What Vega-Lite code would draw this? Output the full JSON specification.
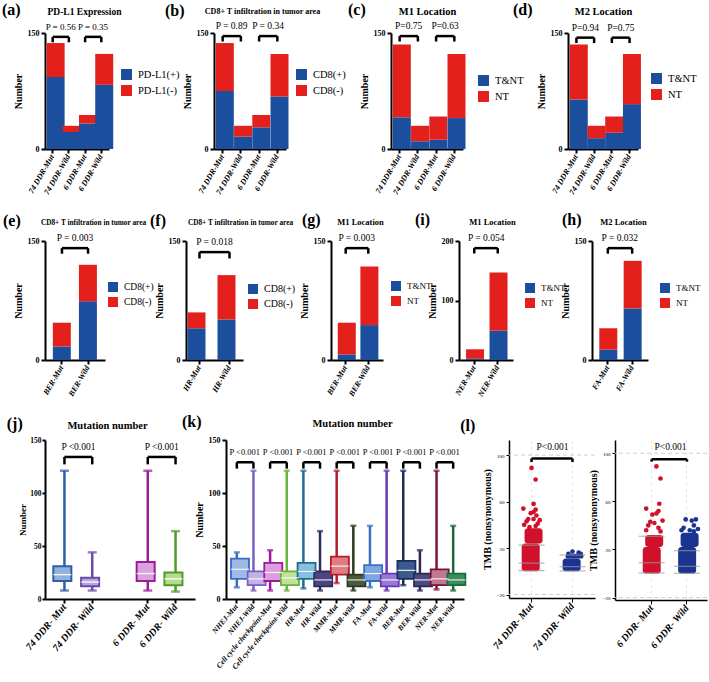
{
  "$schema": "https://vega.github.io/schema/vega-lite/v6.json",
  "padding": {"left": 2, "top": 2, "right": 2, "bottom": 2},
  "background": "white",
  "datasets": {
    "bars": [
      {"p": "a", "g": "74 DDR-Mut", "s": "PD-L1(+)", "n": 93},
      {"p": "a", "g": "74 DDR-Mut", "s": "PD-L1(-)", "n": 44},
      {"p": "a", "g": "74 DDR-Wild", "s": "PD-L1(+)", "n": 22},
      {"p": "a", "g": "74 DDR-Wild", "s": "PD-L1(-)", "n": 8},
      {"p": "a", "g": "6 DDR-Mut", "s": "PD-L1(+)", "n": 33},
      {"p": "a", "g": "6 DDR-Mut", "s": "PD-L1(-)", "n": 11},
      {"p": "a", "g": "6 DDR-Wild", "s": "PD-L1(+)", "n": 83},
      {"p": "a", "g": "6 DDR-Wild", "s": "PD-L1(-)", "n": 40},
      {"p": "b", "g": "74 DDR-Mut", "s": "CD8(+)", "n": 75},
      {"p": "b", "g": "74 DDR-Mut", "s": "CD8(-)", "n": 62},
      {"p": "b", "g": "74 DDR-Wild", "s": "CD8(+)", "n": 16},
      {"p": "b", "g": "74 DDR-Wild", "s": "CD8(-)", "n": 14},
      {"p": "b", "g": "6 DDR-Mut", "s": "CD8(+)", "n": 28},
      {"p": "b", "g": "6 DDR-Mut", "s": "CD8(-)", "n": 16},
      {"p": "b", "g": "6 DDR-Wild", "s": "CD8(+)", "n": 68},
      {"p": "b", "g": "6 DDR-Wild", "s": "CD8(-)", "n": 55},
      {"p": "c", "g": "74 DDR-Mut", "s": "T&NT", "n": 41},
      {"p": "c", "g": "74 DDR-Mut", "s": "NT", "n": 94},
      {"p": "c", "g": "74 DDR-Wild", "s": "T&NT", "n": 10},
      {"p": "c", "g": "74 DDR-Wild", "s": "NT", "n": 20},
      {"p": "c", "g": "6 DDR-Mut", "s": "T&NT", "n": 12},
      {"p": "c", "g": "6 DDR-Mut", "s": "NT", "n": 30},
      {"p": "c", "g": "6 DDR-Wild", "s": "T&NT", "n": 40},
      {"p": "c", "g": "6 DDR-Wild", "s": "NT", "n": 83},
      {"p": "d", "g": "74 DDR-Mut", "s": "T&NT", "n": 64},
      {"p": "d", "g": "74 DDR-Mut", "s": "NT", "n": 71},
      {"p": "d", "g": "74 DDR-Wild", "s": "T&NT", "n": 14},
      {"p": "d", "g": "74 DDR-Wild", "s": "NT", "n": 16},
      {"p": "d", "g": "6 DDR-Mut", "s": "T&NT", "n": 21},
      {"p": "d", "g": "6 DDR-Mut", "s": "NT", "n": 21},
      {"p": "d", "g": "6 DDR-Wild", "s": "T&NT", "n": 58},
      {"p": "d", "g": "6 DDR-Wild", "s": "NT", "n": 65},
      {"p": "e", "g": "BER-Mut", "s": "CD8(+)", "n": 17},
      {"p": "e", "g": "BER-Mut", "s": "CD8(-)", "n": 30},
      {"p": "e", "g": "BER-Wild", "s": "CD8(+)", "n": 74},
      {"p": "e", "g": "BER-Wild", "s": "CD8(-)", "n": 46},
      {"p": "f", "g": "HR-Mut", "s": "CD8(+)", "n": 40},
      {"p": "f", "g": "HR-Mut", "s": "CD8(-)", "n": 20},
      {"p": "f", "g": "HR-Wild", "s": "CD8(+)", "n": 51},
      {"p": "f", "g": "HR-Wild", "s": "CD8(-)", "n": 56},
      {"p": "g", "g": "BER-Mut", "s": "T&NT", "n": 7},
      {"p": "g", "g": "BER-Mut", "s": "NT", "n": 40},
      {"p": "g", "g": "BER-Wild", "s": "T&NT", "n": 44},
      {"p": "g", "g": "BER-Wild", "s": "NT", "n": 74},
      {"p": "i", "g": "NER-Mut", "s": "T&NT", "n": 2},
      {"p": "i", "g": "NER-Mut", "s": "NT", "n": 16},
      {"p": "i", "g": "NER-Wild", "s": "T&NT", "n": 49},
      {"p": "i", "g": "NER-Wild", "s": "NT", "n": 98},
      {"p": "h", "g": "FA-Mut", "s": "T&NT", "n": 13},
      {"p": "h", "g": "FA-Mut", "s": "NT", "n": 27},
      {"p": "h", "g": "FA-Wild", "s": "T&NT", "n": 65},
      {"p": "h", "g": "FA-Wild", "s": "NT", "n": 60}
    ],
    "brk": [
      {"p": "a", "from": "74 DDR-Mut", "to": "74 DDR-Wild", "y": 145, "ylo": 138, "t": "P = 0.56"},
      {"p": "a", "from": "6 DDR-Mut", "to": "6 DDR-Wild", "y": 145, "ylo": 138, "t": "P = 0.35"},
      {"p": "b", "from": "74 DDR-Mut", "to": "74 DDR-Wild", "y": 146, "ylo": 139, "t": "P = 0.89"},
      {"p": "b", "from": "6 DDR-Mut", "to": "6 DDR-Wild", "y": 146, "ylo": 139, "t": "P = 0.34"},
      {"p": "c", "from": "74 DDR-Mut", "to": "74 DDR-Wild", "y": 146, "ylo": 139, "t": "P=0.75"},
      {"p": "c", "from": "6 DDR-Mut", "to": "6 DDR-Wild", "y": 146, "ylo": 139, "t": "P=0.63"},
      {"p": "d", "from": "74 DDR-Mut", "to": "74 DDR-Wild", "y": 144, "ylo": 137, "t": "P=0.94"},
      {"p": "d", "from": "6 DDR-Mut", "to": "6 DDR-Wild", "y": 144, "ylo": 137, "t": "P=0.75"},
      {"p": "e", "from": "BER-Mut", "to": "BER-Wild", "y": 141, "ylo": 134, "t": "P = 0.003"},
      {"p": "f", "from": "HR-Mut", "to": "HR-Wild", "y": 136, "ylo": 128, "t": "P = 0.018"},
      {"p": "g", "from": "BER-Mut", "to": "BER-Wild", "y": 141, "ylo": 134, "t": "P = 0.003"},
      {"p": "i", "from": "NER-Mut", "to": "NER-Wild", "y": 188, "ylo": 179, "t": "P = 0.054"},
      {"p": "h", "from": "FA-Mut", "to": "FA-Wild", "y": 141, "ylo": 134, "t": "P = 0.032"},
      {"p": "j", "from": "74 DDR- Mut", "to": "74 DDR- Wild", "y": 134, "ylo": 127, "t": "P <0.001"},
      {"p": "j", "from": "6 DDR- Mut", "to": "6 DDR- Wild", "y": 134, "ylo": 127, "t": "P <0.001"},
      {"p": "k", "from": "NHEJ-Mut", "to": "NHEJ-Wild", "y": 129, "ylo": 123, "t": "P <0.001"},
      {"p": "k", "from": "Cell cycle checkpoint-Mut", "to": "Cell cycle checkpoint-Wild", "y": 129, "ylo": 123, "t": "P <0.001"},
      {"p": "k", "from": "HR-Mut", "to": "HR-Wild", "y": 129, "ylo": 123, "t": "P <0.001"},
      {"p": "k", "from": "MMR-Mut", "to": "MMR-Wild", "y": 129, "ylo": 123, "t": "P <0.001"},
      {"p": "k", "from": "FA-Mut", "to": "FA-Wild", "y": 129, "ylo": 123, "t": "P <0.001"},
      {"p": "k", "from": "BER-Mut", "to": "BER-Wild", "y": 129, "ylo": 123, "t": "P <0.001"},
      {"p": "k", "from": "NER-Mut", "to": "NER-Wild", "y": 129, "ylo": 123, "t": "P <0.001"},
      {"p": "l1", "from": "74 DDR- Mut", "to": "74 DDR- Wild", "y": 97, "ylo": 94, "t": "P<0.001"},
      {"p": "l2", "from": "6 DDR- Mut", "to": "6 DDR- Wild", "y": 95, "ylo": 93, "t": "P<0.001"}
    ],
    "box": [
      {"p": "j", "g": "74 DDR- Mut", "min": 8, "q1": 17, "med": 23, "q3": 31, "max": 121},
      {"p": "j", "g": "74 DDR- Wild", "min": 8, "q1": 12, "med": 16, "q3": 20, "max": 44},
      {"p": "j", "g": "6 DDR- Mut", "min": 8, "q1": 17, "med": 24, "q3": 35, "max": 121},
      {"p": "j", "g": "6 DDR- Wild", "min": 7, "q1": 13, "med": 19, "q3": 25, "max": 64},
      {"p": "k", "g": "NHEJ-Mut", "min": 11, "q1": 19, "med": 28, "q3": 38, "max": 44},
      {"p": "k", "g": "NHEJ-Wild", "min": 8, "q1": 13, "med": 19, "q3": 26, "max": 121},
      {"p": "k", "g": "Cell cycle checkpoint-Mut", "min": 8, "q1": 17, "med": 25, "q3": 34, "max": 46},
      {"p": "k", "g": "Cell cycle checkpoint-Wild", "min": 8, "q1": 13, "med": 20, "q3": 26, "max": 121},
      {"p": "k", "g": "HR-Mut", "min": 10, "q1": 19, "med": 26, "q3": 34, "max": 121},
      {"p": "k", "g": "HR-Wild", "min": 8, "q1": 12, "med": 18, "q3": 26, "max": 64},
      {"p": "k", "g": "MMR-Mut", "min": 15, "q1": 23, "med": 31, "q3": 40, "max": 121},
      {"p": "k", "g": "MMR-Wild", "min": 8, "q1": 12, "med": 18, "q3": 23, "max": 69},
      {"p": "k", "g": "FA-Mut", "min": 11, "q1": 17, "med": 24, "q3": 32, "max": 69},
      {"p": "k", "g": "FA-Wild", "min": 8, "q1": 12, "med": 18, "q3": 24, "max": 121},
      {"p": "k", "g": "BER-Mut", "min": 13, "q1": 19, "med": 27, "q3": 36, "max": 121},
      {"p": "k", "g": "BER-Wild", "min": 8, "q1": 12, "med": 18, "q3": 24, "max": 46},
      {"p": "k", "g": "NER-Mut", "min": 9, "q1": 13, "med": 19, "q3": 28, "max": 121},
      {"p": "k", "g": "NER-Wild", "min": 8, "q1": 13, "med": 18, "q3": 24, "max": 69}
    ],
    "cloud": [
      {"p": "l1", "g": "74 DDR- Mut", "part": "core", "lo": 0, "hi": 24},
      {"p": "l1", "g": "74 DDR- Mut", "part": "upper", "lo": 24, "hi": 37},
      {"p": "l1", "g": "74 DDR- Wild", "part": "core", "lo": 0, "hi": 11},
      {"p": "l1", "g": "74 DDR- Wild", "part": "upper", "lo": 11, "hi": 15},
      {"p": "l2", "g": "6 DDR- Mut", "part": "core", "lo": 0, "hi": 22},
      {"p": "l2", "g": "6 DDR- Mut", "part": "upper", "lo": 22, "hi": 32},
      {"p": "l2", "g": "6 DDR- Wild", "part": "core", "lo": 0, "hi": 22},
      {"p": "l2", "g": "6 DDR- Wild", "part": "upper", "lo": 22, "hi": 34}
    ],
    "pts": [
      {"p": "l1", "g": "74 DDR- Mut", "j": 0.0, "v": 89},
      {"p": "l1", "g": "74 DDR- Mut", "j": 0.1, "v": 79},
      {"p": "l1", "g": "74 DDR- Mut", "j": 0.05, "v": 58},
      {"p": "l1", "g": "74 DDR- Mut", "j": -0.2, "v": 54},
      {"p": "l1", "g": "74 DDR- Mut", "j": 0.1, "v": 53},
      {"p": "l1", "g": "74 DDR- Mut", "j": 0.05, "v": 51},
      {"p": "l1", "g": "74 DDR- Mut", "j": -0.02, "v": 50},
      {"p": "l1", "g": "74 DDR- Mut", "j": 0.12, "v": 48},
      {"p": "l1", "g": "74 DDR- Mut", "j": -0.08, "v": 45},
      {"p": "l1", "g": "74 DDR- Mut", "j": 0.05, "v": 45},
      {"p": "l1", "g": "74 DDR- Mut", "j": 0.2, "v": 44},
      {"p": "l1", "g": "74 DDR- Mut", "j": -0.12, "v": 43},
      {"p": "l1", "g": "74 DDR- Mut", "j": 0.15, "v": 41},
      {"p": "l1", "g": "74 DDR- Mut", "j": -0.18, "v": 40},
      {"p": "l1", "g": "74 DDR- Mut", "j": 0.1, "v": 39},
      {"p": "l1", "g": "74 DDR- Mut", "j": -0.05, "v": 38},
      {"p": "l1", "g": "74 DDR- Wild", "j": 0.0, "v": 17},
      {"p": "l1", "g": "74 DDR- Wild", "j": 0.15, "v": 16},
      {"p": "l1", "g": "74 DDR- Wild", "j": -0.1, "v": 15},
      {"p": "l1", "g": "74 DDR- Wild", "j": 0.2, "v": 15},
      {"p": "l2", "g": "6 DDR- Mut", "j": 0.05, "v": 89},
      {"p": "l2", "g": "6 DDR- Mut", "j": 0.15, "v": 79},
      {"p": "l2", "g": "6 DDR- Mut", "j": 0.12, "v": 58},
      {"p": "l2", "g": "6 DDR- Mut", "j": -0.2, "v": 54},
      {"p": "l2", "g": "6 DDR- Mut", "j": 0.1, "v": 52},
      {"p": "l2", "g": "6 DDR- Mut", "j": 0.05, "v": 50},
      {"p": "l2", "g": "6 DDR- Mut", "j": -0.05, "v": 49},
      {"p": "l2", "g": "6 DDR- Mut", "j": 0.2, "v": 44},
      {"p": "l2", "g": "6 DDR- Mut", "j": -0.1, "v": 43},
      {"p": "l2", "g": "6 DDR- Mut", "j": 0.0, "v": 42},
      {"p": "l2", "g": "6 DDR- Mut", "j": -0.15, "v": 40},
      {"p": "l2", "g": "6 DDR- Mut", "j": 0.1, "v": 38},
      {"p": "l2", "g": "6 DDR- Mut", "j": -0.2, "v": 36},
      {"p": "l2", "g": "6 DDR- Mut", "j": 0.15, "v": 35},
      {"p": "l2", "g": "6 DDR- Wild", "j": -0.1, "v": 45},
      {"p": "l2", "g": "6 DDR- Wild", "j": 0.15, "v": 45},
      {"p": "l2", "g": "6 DDR- Wild", "j": 0.05, "v": 44},
      {"p": "l2", "g": "6 DDR- Wild", "j": 0.1, "v": 40},
      {"p": "l2", "g": "6 DDR- Wild", "j": -0.15, "v": 38},
      {"p": "l2", "g": "6 DDR- Wild", "j": 0.2, "v": 37},
      {"p": "l2", "g": "6 DDR- Wild", "j": 0.0, "v": 36},
      {"p": "l2", "g": "6 DDR- Wild", "j": -0.2, "v": 36},
      {"p": "l2", "g": "6 DDR- Wild", "j": 0.1, "v": 35}
    ],
    "sumr": [
      {"p": "l1", "g": "74 DDR- Mut", "v": 0.5}, {"p": "l1", "g": "74 DDR- Mut", "v": 7}, {"p": "l1", "g": "74 DDR- Mut", "v": 22.5},
      {"p": "l1", "g": "74 DDR- Wild", "v": 0.3}, {"p": "l1", "g": "74 DDR- Wild", "v": 4}, {"p": "l1", "g": "74 DDR- Wild", "v": 14},
      {"p": "l2", "g": "6 DDR- Mut", "v": 0.5}, {"p": "l2", "g": "6 DDR- Mut", "v": 9}, {"p": "l2", "g": "6 DDR- Mut", "v": 31},
      {"p": "l2", "g": "6 DDR- Wild", "v": 0.2}, {"p": "l2", "g": "6 DDR- Wild", "v": 6}, {"p": "l2", "g": "6 DDR- Wild", "v": 19}
    ]
  },
  "spacing": 16,
  "resolve": {"scale": {"color": "independent", "fill": "independent", "stroke": "independent"}},
  "vconcat": [
    {
      "bounds": "flush",
      "spacing": 105,
      "resolve": {"scale": {"color": "independent"}},
      "hconcat": [
        {
          "title": {"text": "(a)", "anchor": "start", "fontSize": 16, "offset": -12, "dx": -11},
          "width": 64, "height": 116,
          "resolve": {"axis": {"x": "independent"}},
          "layer": [
            {
              "data": {"name": "bars"}, "transform": [{"filter": "datum.p == 'a'"}],
              "mark": {"type": "bar"},
              "encoding": {
                "x": {"field": "g", "type": "nominal", "sort": null, "title": null, "scale": {"domain": ["74 DDR-Mut", "74 DDR-Wild", "6 DDR-Mut", "6 DDR-Wild"], "paddingInner": 0.25, "paddingOuter": 0.1}},
                "y": {"field": "n", "type": "quantitative", "stack": "zero", "title": "Number", "scale": {"domain": [0, 150], "nice": false}, "axis": {"values": [0, 50, 100, 150]}},
                "color": {"field": "s", "type": "nominal", "scale": {"domain": ["PD-L1(+)", "PD-L1(-)"], "range": ["#1c4e9e", "#e3201c"]}, "legend": {"title": null, "orient": "none", "legendX": 76, "legendY": 36}},
                "order": {"field": "s", "sort": "ascending"}
              }
            },
            {"data": {"name": "brk"}, "transform": [{"filter": "datum.p == 'a'"}], "mark": {"type": "rule", "strokeWidth": 2.5, "color": "#000"},
             "encoding": {"x": {"field": "from", "type": "nominal", "axis": {"orient": "top", "title": "PD-L1 Expression", "titleX": 39, "titleFontSize": 9.5, "titlePadding": 17, "labels": false, "ticks": false, "domain": false}}, "x2": {"field": "to"}, "y": {"field": "y", "type": "quantitative"}}},
            {"data": {"name": "brk"}, "transform": [{"filter": "datum.p == 'a'"}, {"fold": ["from", "to"], "as": ["end", "cat"]}], "mark": {"type": "rule", "strokeWidth": 2.5, "color": "#000"},
             "encoding": {"x": {"field": "cat", "type": "nominal", "axis": null}, "y": {"field": "y", "type": "quantitative"}, "y2": {"field": "ylo"}}},
            {"data": {"name": "brk"}, "transform": [{"filter": "datum.p == 'a'"}], "mark": {"type": "text", "dx": 8, "dy": -10, "fontSize": 9},
             "encoding": {"x": {"field": "from", "type": "nominal", "axis": null}, "y": {"field": "y", "type": "quantitative"}, "text": {"field": "t"}}}
          ]
        },
        {
          "title": {"text": "(b)", "anchor": "start", "fontSize": 16, "offset": -12, "dx": -17},
          "width": 72, "height": 116,
          "resolve": {"axis": {"x": "independent"}},
          "layer": [
            {
              "data": {"name": "bars"}, "transform": [{"filter": "datum.p == 'b'"}],
              "mark": {"type": "bar"},
              "encoding": {
                "x": {"field": "g", "type": "nominal", "sort": null, "title": null, "scale": {"domain": ["74 DDR-Mut", "74 DDR-Wild", "6 DDR-Mut", "6 DDR-Wild"], "paddingInner": 0.25, "paddingOuter": 0.1}},
                "y": {"field": "n", "type": "quantitative", "stack": "zero", "title": "Number", "scale": {"domain": [0, 150], "nice": false}, "axis": {"values": [0, 50, 100, 150]}},
                "color": {"field": "s", "type": "nominal", "scale": {"domain": ["CD8(+)", "CD8(-)"], "range": ["#1c4e9e", "#e3201c"]}, "legend": {"title": null, "orient": "none", "legendX": 82, "legendY": 36}},
                "order": {"field": "s", "sort": "ascending"}
              }
            },
            {"data": {"name": "brk"}, "transform": [{"filter": "datum.p == 'b'"}], "mark": {"type": "rule", "strokeWidth": 2.5, "color": "#000"},
             "encoding": {"x": {"field": "from", "type": "nominal", "axis": {"orient": "top", "title": "CD8+ T infiltration in tumor area", "titleX": 48, "titleFontSize": 8, "titlePadding": 18, "labels": false, "ticks": false, "domain": false}}, "x2": {"field": "to"}, "y": {"field": "y", "type": "quantitative"}}},
            {"data": {"name": "brk"}, "transform": [{"filter": "datum.p == 'b'"}, {"fold": ["from", "to"], "as": ["end", "cat"]}], "mark": {"type": "rule", "strokeWidth": 2.5, "color": "#000"},
             "encoding": {"x": {"field": "cat", "type": "nominal", "axis": null}, "y": {"field": "y", "type": "quantitative"}, "y2": {"field": "ylo"}}},
            {"data": {"name": "brk"}, "transform": [{"filter": "datum.p == 'b'"}], "mark": {"type": "text", "dx": 9, "dy": -10, "fontSize": 9.5},
             "encoding": {"x": {"field": "from", "type": "nominal", "axis": null}, "y": {"field": "y", "type": "quantitative"}, "text": {"field": "t"}}}
          ]
        },
        {
          "title": {"text": "(c)", "anchor": "start", "fontSize": 16, "offset": -12, "dx": -11},
          "width": 72, "height": 116,
          "resolve": {"axis": {"x": "independent"}},
          "layer": [
            {
              "data": {"name": "bars"}, "transform": [{"filter": "datum.p == 'c'"}],
              "mark": {"type": "bar"},
              "encoding": {
                "x": {"field": "g", "type": "nominal", "sort": null, "title": null, "scale": {"domain": ["74 DDR-Mut", "74 DDR-Wild", "6 DDR-Mut", "6 DDR-Wild"], "paddingInner": 0.25, "paddingOuter": 0.1}},
                "y": {"field": "n", "type": "quantitative", "stack": "zero", "title": "Number", "scale": {"domain": [0, 150], "nice": false}, "axis": {"values": [0, 50, 100, 150]}},
                "color": {"field": "s", "type": "nominal", "scale": {"domain": ["T&NT", "NT"], "range": ["#1c4e9e", "#e3201c"]}, "legend": {"title": null, "orient": "none", "legendX": 87, "legendY": 42}},
                "order": {"field": "s", "sort": "descending"}
              }
            },
            {"data": {"name": "brk"}, "transform": [{"filter": "datum.p == 'c'"}], "mark": {"type": "rule", "strokeWidth": 2.5, "color": "#000"},
             "encoding": {"x": {"field": "from", "type": "nominal", "axis": {"orient": "top", "title": "M1 Location", "titleX": 36, "titleFontSize": 10.5, "titlePadding": 17, "labels": false, "ticks": false, "domain": false}}, "x2": {"field": "to"}, "y": {"field": "y", "type": "quantitative"}}},
            {"data": {"name": "brk"}, "transform": [{"filter": "datum.p == 'c'"}, {"fold": ["from", "to"], "as": ["end", "cat"]}], "mark": {"type": "rule", "strokeWidth": 2.5, "color": "#000"},
             "encoding": {"x": {"field": "cat", "type": "nominal", "axis": null}, "y": {"field": "y", "type": "quantitative"}, "y2": {"field": "ylo"}}},
            {"data": {"name": "brk"}, "transform": [{"filter": "datum.p == 'c'"}], "mark": {"type": "text", "dx": 9, "dy": -10, "fontSize": 9.5},
             "encoding": {"x": {"field": "from", "type": "nominal", "axis": null}, "y": {"field": "y", "type": "quantitative"}, "text": {"field": "t"}}}
          ]
        },
        {
          "title": {"text": "(d)", "anchor": "start", "fontSize": 16, "offset": -12, "dx": -23},
          "width": 70, "height": 116,
          "resolve": {"axis": {"x": "independent"}},
          "layer": [
            {
              "data": {"name": "bars"}, "transform": [{"filter": "datum.p == 'd'"}],
              "mark": {"type": "bar"},
              "encoding": {
                "x": {"field": "g", "type": "nominal", "sort": null, "title": null, "scale": {"domain": ["74 DDR-Mut", "74 DDR-Wild", "6 DDR-Mut", "6 DDR-Wild"], "paddingInner": 0.25, "paddingOuter": 0.1}},
                "y": {"field": "n", "type": "quantitative", "stack": "zero", "title": "Number", "scale": {"domain": [0, 150], "nice": false}, "axis": {"values": [0, 50, 100, 150]}},
                "color": {"field": "s", "type": "nominal", "scale": {"domain": ["T&NT", "NT"], "range": ["#1c4e9e", "#e3201c"]}, "legend": {"title": null, "orient": "none", "legendX": 83, "legendY": 40}},
                "order": {"field": "s", "sort": "descending"}
              }
            },
            {"data": {"name": "brk"}, "transform": [{"filter": "datum.p == 'd'"}], "mark": {"type": "rule", "strokeWidth": 2.5, "color": "#000"},
             "encoding": {"x": {"field": "from", "type": "nominal", "axis": {"orient": "top", "title": "M2 Location", "titleX": 35, "titleFontSize": 10.5, "titlePadding": 17, "labels": false, "ticks": false, "domain": false}}, "x2": {"field": "to"}, "y": {"field": "y", "type": "quantitative"}}},
            {"data": {"name": "brk"}, "transform": [{"filter": "datum.p == 'd'"}, {"fold": ["from", "to"], "as": ["end", "cat"]}], "mark": {"type": "rule", "strokeWidth": 2.5, "color": "#000"},
             "encoding": {"x": {"field": "cat", "type": "nominal", "axis": null}, "y": {"field": "y", "type": "quantitative"}, "y2": {"field": "ylo"}}},
            {"data": {"name": "brk"}, "transform": [{"filter": "datum.p == 'd'"}], "mark": {"type": "text", "dx": 9, "dy": -10, "fontSize": 9.5},
             "encoding": {"x": {"field": "from", "type": "nominal", "axis": null}, "y": {"field": "y", "type": "quantitative"}, "text": {"field": "t"}}}
          ]
        }
      ]
    },
    {
      "bounds": "flush",
      "spacing": 81,
      "resolve": {"scale": {"color": "independent"}},
      "hconcat": [
        {
          "title": {"text": "(e)", "anchor": "start", "fontSize": 16, "offset": -11, "dx": -10},
          "width": 60, "height": 119,
          "resolve": {"axis": {"x": "independent"}},
          "layer": [
            {
              "data": {"name": "bars"}, "transform": [{"filter": "datum.p == 'e'"}],
              "mark": {"type": "bar"},
              "encoding": {
                "x": {"field": "g", "type": "nominal", "sort": null, "title": null, "scale": {"domain": ["BER-Mut", "BER-Wild"], "paddingInner": 0.3, "paddingOuter": 0.3}},
                "y": {"field": "n", "type": "quantitative", "stack": "zero", "title": "Number", "scale": {"domain": [0, 150], "nice": false}, "axis": {"values": [0, 50, 100, 150]}},
                "color": {"field": "s", "type": "nominal", "scale": {"domain": ["CD8(+)", "CD8(-)"], "range": ["#1c4e9e", "#e3201c"]}, "legend": {"title": null, "orient": "none", "legendX": 63, "legendY": 41, "labelFontSize": 9.5, "symbolSize": 100}},
                "order": {"field": "s", "sort": "ascending"}
              }
            },
            {"data": {"name": "brk"}, "transform": [{"filter": "datum.p == 'e'"}], "mark": {"type": "rule", "strokeWidth": 2.5, "color": "#000"},
             "encoding": {"x": {"field": "from", "type": "nominal", "axis": {"orient": "top", "title": "CD8+ T infiltration in tumor area", "titleX": 48, "titleFontSize": 7.3, "titlePadding": 15, "labels": false, "ticks": false, "domain": false}}, "x2": {"field": "to"}, "y": {"field": "y", "type": "quantitative"}}},
            {"data": {"name": "brk"}, "transform": [{"filter": "datum.p == 'e'"}, {"fold": ["from", "to"], "as": ["end", "cat"]}], "mark": {"type": "rule", "strokeWidth": 2.5, "color": "#000"},
             "encoding": {"x": {"field": "cat", "type": "nominal", "axis": null}, "y": {"field": "y", "type": "quantitative"}, "y2": {"field": "ylo"}}},
            {"data": {"name": "brk"}, "transform": [{"filter": "datum.p == 'e'"}], "mark": {"type": "text", "dx": 13, "dy": -10, "fontSize": 9.5},
             "encoding": {"x": {"field": "from", "type": "nominal", "axis": null}, "y": {"field": "y", "type": "quantitative"}, "text": {"field": "t"}}}
          ]
        },
        {
          "bounds": "flush",
          "spacing": 88,
          "resolve": {"scale": {"color": "independent"}},
          "hconcat": [
            {
              "title": {"text": "(f)", "anchor": "start", "fontSize": 16, "offset": -11, "dx": -4},
              "width": 57, "height": 119,
              "resolve": {"axis": {"x": "independent"}},
              "layer": [
                {
                  "data": {"name": "bars"}, "transform": [{"filter": "datum.p == 'f'"}],
                  "mark": {"type": "bar"},
                  "encoding": {
                    "x": {"field": "g", "type": "nominal", "sort": null, "title": null, "scale": {"domain": ["HR-Mut", "HR-Wild"], "paddingInner": 0.2, "paddingOuter": 0.05}},
                    "y": {"field": "n", "type": "quantitative", "stack": "zero", "title": "Number", "scale": {"domain": [0, 150], "nice": false}, "axis": {"values": [0, 50, 100, 150]}},
                    "color": {"field": "s", "type": "nominal", "scale": {"domain": ["CD8(+)", "CD8(-)"], "range": ["#1c4e9e", "#e3201c"]}, "legend": {"title": null, "orient": "none", "legendX": 62, "legendY": 43, "labelFontSize": 10, "symbolSize": 100}},
                    "order": {"field": "s", "sort": "ascending"}
                  }
                },
                {"data": {"name": "brk"}, "transform": [{"filter": "datum.p == 'f'"}], "mark": {"type": "rule", "strokeWidth": 2.5, "color": "#000"},
                 "encoding": {"x": {"field": "from", "type": "nominal", "axis": {"orient": "top", "title": "CD8+ T infiltration in tumor area", "titleX": 54, "titleFontSize": 7.3, "titlePadding": 15, "labels": false, "ticks": false, "domain": false}}, "x2": {"field": "to"}, "y": {"field": "y", "type": "quantitative"}}},
                {"data": {"name": "brk"}, "transform": [{"filter": "datum.p == 'f'"}, {"fold": ["from", "to"], "as": ["end", "cat"]}], "mark": {"type": "rule", "strokeWidth": 2.5, "color": "#000"},
                 "encoding": {"x": {"field": "cat", "type": "nominal", "axis": null}, "y": {"field": "y", "type": "quantitative"}, "y2": {"field": "ylo"}}},
                {"data": {"name": "brk"}, "transform": [{"filter": "datum.p == 'f'"}], "mark": {"type": "text", "dx": 15, "dy": -10, "fontSize": 9.5},
                 "encoding": {"x": {"field": "from", "type": "nominal", "axis": null}, "y": {"field": "y", "type": "quantitative"}, "text": {"field": "t"}}}
              ]
            },
            {
              "bounds": "flush",
              "spacing": 76,
              "resolve": {"scale": {"color": "independent"}},
              "hconcat": [
                {
                  "title": {"text": "(g)", "anchor": "start", "fontSize": 16, "offset": -11, "dx": 3},
                  "width": 52, "height": 119,
                  "resolve": {"axis": {"x": "independent"}},
                  "layer": [
                    {
                      "data": {"name": "bars"}, "transform": [{"filter": "datum.p == 'g'"}],
                      "mark": {"type": "bar"},
                      "encoding": {
                        "x": {"field": "g", "type": "nominal", "sort": null, "title": null, "scale": {"domain": ["BER-Mut", "BER-Wild"], "paddingInner": 0.3, "paddingOuter": 0.3}},
                        "y": {"field": "n", "type": "quantitative", "stack": "zero", "title": "Number", "scale": {"domain": [0, 150], "nice": false}, "axis": {"values": [0, 50, 100, 150]}},
                        "color": {"field": "s", "type": "nominal", "scale": {"domain": ["T&NT", "NT"], "range": ["#1c4e9e", "#e3201c"]}, "legend": {"title": null, "orient": "none", "legendX": 60, "legendY": 40, "labelFontSize": 9, "symbolSize": 100}},
                        "order": {"field": "s", "sort": "descending"}
                      }
                    },
                    {"data": {"name": "brk"}, "transform": [{"filter": "datum.p == 'g'"}], "mark": {"type": "rule", "strokeWidth": 2.5, "color": "#000"},
                     "encoding": {"x": {"field": "from", "type": "nominal", "axis": {"orient": "top", "title": "M1 Location", "titleX": 29, "titleFontSize": 8.5, "titlePadding": 15, "labels": false, "ticks": false, "domain": false}}, "x2": {"field": "to"}, "y": {"field": "y", "type": "quantitative"}}},
                    {"data": {"name": "brk"}, "transform": [{"filter": "datum.p == 'g'"}, {"fold": ["from", "to"], "as": ["end", "cat"]}], "mark": {"type": "rule", "strokeWidth": 2.5, "color": "#000"},
                     "encoding": {"x": {"field": "cat", "type": "nominal", "axis": null}, "y": {"field": "y", "type": "quantitative"}, "y2": {"field": "ylo"}}},
                    {"data": {"name": "brk"}, "transform": [{"filter": "datum.p == 'g'"}], "mark": {"type": "text", "dx": 11, "dy": -10, "fontSize": 9.5},
                     "encoding": {"x": {"field": "from", "type": "nominal", "axis": null}, "y": {"field": "y", "type": "quantitative"}, "text": {"field": "t"}}}
                  ]
                },
                {
                  "bounds": "flush",
                  "spacing": 79,
                  "resolve": {"scale": {"color": "independent"}},
                  "hconcat": [
                    {
                      "title": {"text": "(i)", "anchor": "start", "fontSize": 16, "offset": -11, "dx": -12},
                      "width": 54, "height": 119,
                      "resolve": {"axis": {"x": "independent"}},
                      "layer": [
                        {
                          "data": {"name": "bars"}, "transform": [{"filter": "datum.p == 'i'"}],
                          "mark": {"type": "bar"},
                          "encoding": {
                            "x": {"field": "g", "type": "nominal", "sort": null, "title": null, "scale": {"domain": ["NER-Mut", "NER-Wild"], "paddingInner": 0.3, "paddingOuter": 0.3}},
                            "y": {"field": "n", "type": "quantitative", "stack": "zero", "title": "Number", "scale": {"domain": [0, 200], "nice": false}, "axis": {"values": [0, 50, 100, 150, 200]}},
                            "color": {"field": "s", "type": "nominal", "scale": {"domain": ["T&NT", "NT"], "range": ["#1c4e9e", "#e3201c"]}, "legend": {"title": null, "orient": "none", "legendX": 66, "legendY": 42, "labelFontSize": 9, "symbolSize": 100}},
                            "order": {"field": "s", "sort": "descending"}
                          }
                        },
                        {"data": {"name": "brk"}, "transform": [{"filter": "datum.p == 'i'"}], "mark": {"type": "rule", "strokeWidth": 2.5, "color": "#000"},
                         "encoding": {"x": {"field": "from", "type": "nominal", "axis": {"orient": "top", "title": "M1 Location", "titleX": 33, "titleFontSize": 8.5, "titlePadding": 15, "labels": false, "ticks": false, "domain": false}}, "x2": {"field": "to"}, "y": {"field": "y", "type": "quantitative"}}},
                        {"data": {"name": "brk"}, "transform": [{"filter": "datum.p == 'i'"}, {"fold": ["from", "to"], "as": ["end", "cat"]}], "mark": {"type": "rule", "strokeWidth": 2.5, "color": "#000"},
                         "encoding": {"x": {"field": "cat", "type": "nominal", "axis": null}, "y": {"field": "y", "type": "quantitative"}, "y2": {"field": "ylo"}}},
                        {"data": {"name": "brk"}, "transform": [{"filter": "datum.p == 'i'"}], "mark": {"type": "text", "dx": 12, "dy": -10, "fontSize": 9.5},
                         "encoding": {"x": {"field": "from", "type": "nominal", "axis": null}, "y": {"field": "y", "type": "quantitative"}, "text": {"field": "t"}}}
                      ]
                    },
                    {
                      "title": {"text": "(h)", "anchor": "start", "fontSize": 16, "offset": -11, "dx": 2},
                      "width": 56, "height": 119,
                      "resolve": {"axis": {"x": "independent"}},
                      "layer": [
                        {
                          "data": {"name": "bars"}, "transform": [{"filter": "datum.p == 'h'"}],
                          "mark": {"type": "bar"},
                          "encoding": {
                            "x": {"field": "g", "type": "nominal", "sort": null, "title": null, "scale": {"domain": ["FA-Mut", "FA-Wild"], "paddingInner": 0.3, "paddingOuter": 0.3}},
                            "y": {"field": "n", "type": "quantitative", "stack": "zero", "title": "Number", "scale": {"domain": [0, 150], "nice": false}, "axis": {"values": [0, 50, 100, 150]}},
                            "color": {"field": "s", "type": "nominal", "scale": {"domain": ["T&NT", "NT"], "range": ["#1c4e9e", "#e3201c"]}, "legend": {"title": null, "orient": "none", "legendX": 68, "legendY": 42, "labelFontSize": 9, "symbolSize": 100}},
                            "order": {"field": "s", "sort": "descending"}
                          }
                        },
                        {"data": {"name": "brk"}, "transform": [{"filter": "datum.p == 'h'"}], "mark": {"type": "rule", "strokeWidth": 2.5, "color": "#000"},
                         "encoding": {"x": {"field": "from", "type": "nominal", "axis": {"orient": "top", "title": "M2 Location", "titleX": 31, "titleFontSize": 8.5, "titlePadding": 15, "labels": false, "ticks": false, "domain": false}}, "x2": {"field": "to"}, "y": {"field": "y", "type": "quantitative"}}},
                        {"data": {"name": "brk"}, "transform": [{"filter": "datum.p == 'h'"}, {"fold": ["from", "to"], "as": ["end", "cat"]}], "mark": {"type": "rule", "strokeWidth": 2.5, "color": "#000"},
                         "encoding": {"x": {"field": "cat", "type": "nominal", "axis": null}, "y": {"field": "y", "type": "quantitative"}, "y2": {"field": "ylo"}}},
                        {"data": {"name": "brk"}, "transform": [{"filter": "datum.p == 'h'"}], "mark": {"type": "text", "dx": 12, "dy": -10, "fontSize": 9.5},
                         "encoding": {"x": {"field": "from", "type": "nominal", "axis": null}, "y": {"field": "y", "type": "quantitative"}, "text": {"field": "t"}}}
                      ]
                    }
                  ]
                }
              ]
            }
          ]
        }
      ]
    },
    {
      "bounds": "flush",
      "spacing": 31,
      "resolve": {"scale": {"color": "independent", "fill": "independent", "stroke": "independent"}},
      "hconcat": [
        {
          "title": {"text": "(j)", "anchor": "start", "fontSize": 16, "offset": -12, "dx": -12},
          "width": 150, "height": 159,
          "resolve": {"axis": {"x": "independent"}},
          "layer": [
            {
              "data": {"name": "box"}, "transform": [{"filter": "datum.p == 'j'"}],
              "layer": [
                {"mark": {"type": "rule", "strokeWidth": 2.5},
                 "encoding": {
                   "x": {"field": "g", "type": "nominal", "sort": null, "title": null, "scale": {"domain": ["74 DDR- Mut", "74 DDR- Wild", " ", "6 DDR- Mut", "6 DDR- Wild"], "paddingInner": 0.2, "paddingOuter": 0.3}, "axis": {"values": ["74 DDR- Mut", "74 DDR- Wild", "6 DDR- Mut", "6 DDR- Wild"], "labelAngle": -50, "labelFontSize": 10}},
                   "y": {"field": "min", "type": "quantitative", "title": "Number", "scale": {"domain": [0, 150], "nice": false}, "axis": {"values": [0, 50, 100, 150], "titlePadding": 2, "titleFontSize": 9, "labelFontSize": 7.5, "labelPadding": 1, "tickSize": 3}},
                   "y2": {"field": "max"},
                   "color": {"field": "g", "type": "nominal", "legend": null, "scale": {"domain": ["74 DDR- Mut", "74 DDR- Wild", "6 DDR- Mut", "6 DDR- Wild"], "range": ["#2f5ea8", "#6a4aa8", "#9b1b9b", "#4f9b2a"]}}
                 }},
                {"mark": {"type": "bar", "strokeWidth": 2},
                 "encoding": {
                   "x": {"field": "g", "type": "nominal"},
                   "y": {"field": "q1", "type": "quantitative"},
                   "y2": {"field": "q3"},
                   "fill": {"field": "g", "type": "nominal", "legend": null, "scale": {"domain": ["74 DDR- Mut", "74 DDR- Wild", "6 DDR- Mut", "6 DDR- Wild"], "range": ["#93b1de", "#b7a5db", "#dba3db", "#b7dc8f"]}},
                   "stroke": {"field": "g", "type": "nominal", "legend": null, "scale": {"domain": ["74 DDR- Mut", "74 DDR- Wild", "6 DDR- Mut", "6 DDR- Wild"], "range": ["#2f5ea8", "#6a4aa8", "#9b1b9b", "#4f9b2a"]}}
                 }},
                {"mark": {"type": "tick", "color": "#ffffff", "thickness": 1.5, "opacity": 0.85},
                 "encoding": {"x": {"field": "g", "type": "nominal"}, "y": {"field": "med", "type": "quantitative"}}},
                {"transform": [{"fold": ["min", "max"], "as": ["k", "v"]}],
                 "mark": {"type": "tick", "thickness": 2.5, "size": 9},
                 "encoding": {"x": {"field": "g", "type": "nominal"}, "y": {"field": "v", "type": "quantitative"}, "color": {"field": "g", "type": "nominal", "legend": null}}}
              ]
            },
            {"data": {"name": "brk"}, "transform": [{"filter": "datum.p == 'j'"}], "mark": {"type": "rule", "strokeWidth": 2.5, "color": "#000"},
             "encoding": {"x": {"field": "from", "type": "nominal", "axis": {"orient": "top", "title": "Mutation number", "titleX": 62, "titleFontSize": 10.5, "titlePadding": 10, "labels": false, "ticks": false, "domain": false}}, "x2": {"field": "to"}, "y": {"field": "y", "type": "quantitative"}}},
            {"data": {"name": "brk"}, "transform": [{"filter": "datum.p == 'j'"}, {"fold": ["from", "to"], "as": ["end", "cat"]}], "mark": {"type": "rule", "strokeWidth": 2.5, "color": "#000"},
             "encoding": {"x": {"field": "cat", "type": "nominal", "axis": null}, "y": {"field": "y", "type": "quantitative"}, "y2": {"field": "ylo"}}},
            {"data": {"name": "brk"}, "transform": [{"filter": "datum.p == 'j'"}], "mark": {"type": "text", "dx": 14, "dy": -10, "fontSize": 9.5},
             "encoding": {"x": {"field": "from", "type": "nominal", "axis": null}, "y": {"field": "y", "type": "quantitative"}, "text": {"field": "t"}}}
          ]
        },
        {
          "bounds": "flush",
          "spacing": 45,
          "resolve": {"scale": {"color": "independent", "fill": "independent", "stroke": "independent"}},
          "hconcat": [
            {
              "title": {"text": "(k)", "anchor": "start", "fontSize": 16, "offset": -12, "dx": -12},
              "width": 238, "height": 159,
              "resolve": {"axis": {"x": "independent"}},
              "layer": [
                {
                  "data": {"name": "box"}, "transform": [{"filter": "datum.p == 'k'"}],
                  "layer": [
                    {"mark": {"type": "rule", "strokeWidth": 2.5},
                     "encoding": {
                       "x": {"field": "g", "type": "nominal", "sort": null, "title": null, "scale": {"domain": ["NHEJ-Mut", "NHEJ-Wild", "Cell cycle checkpoint-Mut", "Cell cycle checkpoint-Wild", "HR-Mut", "HR-Wild", "MMR-Mut", "MMR-Wild", "FA-Mut", "FA-Wild", "BER-Mut", "BER-Wild", "NER-Mut", "NER-Wild"], "paddingInner": 0.3, "paddingOuter": 0.3}, "axis": {"labelAngle": -50, "labelFontSize": 7.5}},
                       "y": {"field": "min", "type": "quantitative", "title": "Number", "scale": {"domain": [0, 150], "nice": false}, "axis": {"values": [0, 50, 100, 150]}},
                       "y2": {"field": "max"},
                       "color": {"field": "g", "type": "nominal", "legend": null, "scale": {"domain": ["NHEJ-Mut", "NHEJ-Wild", "Cell cycle checkpoint-Mut", "Cell cycle checkpoint-Wild", "HR-Mut", "HR-Wild", "MMR-Mut", "MMR-Wild", "FA-Mut", "FA-Wild", "BER-Mut", "BER-Wild", "NER-Mut", "NER-Wild"], "range": ["#3a6cc0", "#7b5fc4", "#a0189e", "#6cb33a", "#1f6d92", "#2f2b5f", "#b41d2c", "#2c3a1f", "#3a70c0", "#6638b4", "#172e5e", "#2a2858", "#7a1537", "#1a6a3c"]}}
                     }},
                    {"mark": {"type": "bar", "strokeWidth": 1.8},
                     "encoding": {
                       "x": {"field": "g", "type": "nominal"},
                       "y": {"field": "q1", "type": "quantitative"},
                       "y2": {"field": "q3"},
                       "fill": {"field": "g", "type": "nominal", "legend": null, "scale": {"domain": ["NHEJ-Mut", "NHEJ-Wild", "Cell cycle checkpoint-Mut", "Cell cycle checkpoint-Wild", "HR-Mut", "HR-Wild", "MMR-Mut", "MMR-Wild", "FA-Mut", "FA-Wild", "BER-Mut", "BER-Wild", "NER-Mut", "NER-Wild"], "range": ["#9dbbe6", "#c2b2e6", "#dc9fdc", "#c0e29a", "#86c0dc", "#4a4580", "#e07c84", "#4a5a3a", "#7ea6df", "#9a78d8", "#3c5a8e", "#4c4a80", "#c07890", "#3c8c5c"]}},
                       "stroke": {"field": "g", "type": "nominal", "legend": null, "scale": {"domain": ["NHEJ-Mut", "NHEJ-Wild", "Cell cycle checkpoint-Mut", "Cell cycle checkpoint-Wild", "HR-Mut", "HR-Wild", "MMR-Mut", "MMR-Wild", "FA-Mut", "FA-Wild", "BER-Mut", "BER-Wild", "NER-Mut", "NER-Wild"], "range": ["#3a6cc0", "#7b5fc4", "#a0189e", "#6cb33a", "#1f6d92", "#2f2b5f", "#b41d2c", "#2c3a1f", "#3a70c0", "#6638b4", "#172e5e", "#2a2858", "#7a1537", "#1a6a3c"]}}
                     }},
                    {"mark": {"type": "tick", "color": "#ffffff", "thickness": 1.2, "opacity": 0.85},
                     "encoding": {"x": {"field": "g", "type": "nominal"}, "y": {"field": "med", "type": "quantitative"}}},
                    {"transform": [{"fold": ["min", "max"], "as": ["k", "v"]}],
                     "mark": {"type": "tick", "thickness": 2.5, "size": 6},
                     "encoding": {"x": {"field": "g", "type": "nominal"}, "y": {"field": "v", "type": "quantitative"}, "color": {"field": "g", "type": "nominal", "legend": null}}}
                  ]
                },
                {"data": {"name": "brk"}, "transform": [{"filter": "datum.p == 'k'"}], "mark": {"type": "rule", "strokeWidth": 2.5, "color": "#000"},
                 "encoding": {"x": {"field": "from", "type": "nominal", "axis": {"orient": "top", "title": "Mutation number", "titleX": 126, "titleFontSize": 10.5, "titlePadding": 12, "labels": false, "ticks": false, "domain": false}}, "x2": {"field": "to"}, "y": {"field": "y", "type": "quantitative"}}},
                {"data": {"name": "brk"}, "transform": [{"filter": "datum.p == 'k'"}, {"fold": ["from", "to"], "as": ["end", "cat"]}], "mark": {"type": "rule", "strokeWidth": 2.5, "color": "#000"},
                 "encoding": {"x": {"field": "cat", "type": "nominal", "axis": null}, "y": {"field": "y", "type": "quantitative"}, "y2": {"field": "ylo"}}},
                {"data": {"name": "brk"}, "transform": [{"filter": "datum.p == 'k'"}], "mark": {"type": "text", "dx": 8, "dy": -10, "fontSize": 8.5},
                 "encoding": {"x": {"field": "from", "type": "nominal", "axis": null}, "y": {"field": "y", "type": "quantitative"}, "text": {"field": "t"}}}
              ]
            },
            {
              "bounds": "flush",
              "spacing": 20,
              "resolve": {"scale": {"color": "independent"}},
              "hconcat": [
                {
                  "title": {"text": "(l)", "anchor": "start", "fontSize": 16, "offset": 6, "dx": -22},
                  "width": 86, "height": 158,
                  "layer": [
                    {"data": {"name": "cloud"}, "transform": [{"filter": "datum.p == 'l1' && datum.part == 'core'"}],
                     "mark": {"type": "bar", "width": {"band": 0.48}, "cornerRadius": 3},
                     "encoding": {
                       "x": {"field": "g", "type": "nominal", "sort": null, "title": null, "scale": {"domain": ["74 DDR- Mut", "74 DDR- Wild"], "paddingInner": 0, "paddingOuter": 0.05}, "axis": {"labelAngle": -50, "labelFontSize": 10, "domainWidth": 1.5, "tickWidth": 1, "grid": true, "gridDash": [3, 3], "gridColor": "#e6e6e6"}},
                       "y": {"field": "lo", "type": "quantitative", "title": "TMB (nonsynonymous)", "scale": {"domain": [-23, 113], "nice": false}, "axis": {"values": [-20, 0, 20, 40, 60, 80, 100], "labelFontSize": 5, "labelFontWeight": "normal", "domainWidth": 1.5, "tickWidth": 1, "tickSize": 3}},
                       "y2": {"field": "hi"},
                       "color": {"field": "g", "type": "nominal", "legend": null, "scale": {"domain": ["74 DDR- Mut", "74 DDR- Wild"], "range": ["#d0112b", "#1a3490"]}}
                     }},
                    {"data": {"values": [{"v": 100}, {"v": -20}]}, "mark": {"type": "rule", "color": "#cfcfcf", "strokeDash": [4, 3], "strokeWidth": 1}, "encoding": {"y": {"field": "v", "type": "quantitative"}}},
                    {"data": {"name": "cloud"}, "transform": [{"filter": "datum.p == 'l1' && datum.part == 'upper'"}],
                     "mark": {"type": "bar", "width": {"band": 0.34}, "cornerRadius": 3},
                     "encoding": {"x": {"field": "g", "type": "nominal"}, "y": {"field": "lo", "type": "quantitative"}, "y2": {"field": "hi"}, "color": {"field": "g", "type": "nominal", "legend": null}}},
                    {"data": {"name": "pts"}, "transform": [{"filter": "datum.p == 'l1'"}],
                     "mark": {"type": "point", "filled": true, "size": 22, "opacity": 1},
                     "encoding": {"x": {"field": "g", "type": "nominal"}, "xOffset": {"field": "j", "type": "quantitative", "scale": {"domain": [-0.5, 0.5]}}, "y": {"field": "v", "type": "quantitative"}, "color": {"field": "g", "type": "nominal", "legend": null}}},
                    {"data": {"name": "sumr"}, "transform": [{"filter": "datum.p == 'l1'"}],
                     "mark": {"type": "tick", "color": "#9a9a9a", "thickness": 1.2, "size": 26},
                     "encoding": {"x": {"field": "g", "type": "nominal"}, "y": {"field": "v", "type": "quantitative"}}},
                    {
                      "data": {"name": "brk"}, "transform": [{"filter": "datum.p == 'l1'"}],
                      "layer": [
                        {"mark": {"type": "rule", "strokeWidth": 2.5, "color": "#000"}, "encoding": {"x": {"field": "from", "type": "nominal"}, "x2": {"field": "to"}, "y": {"field": "y", "type": "quantitative"}}},
                        {"transform": [{"fold": ["from", "to"], "as": ["end", "cat"]}], "mark": {"type": "rule", "strokeWidth": 2.5, "color": "#000"}, "encoding": {"x": {"field": "cat", "type": "nominal"}, "y": {"field": "y", "type": "quantitative"}, "y2": {"field": "ylo"}}},
                        {"mark": {"type": "text", "dx": 21, "dy": -12, "fontSize": 9.5}, "encoding": {"x": {"field": "from", "type": "nominal"}, "y": {"field": "y", "type": "quantitative"}, "text": {"field": "t"}}}
                      ]
                    }
                  ]
                },
                {
                  "width": 92, "height": 160,
                  "layer": [
                    {"data": {"name": "cloud"}, "transform": [{"filter": "datum.p == 'l2' && datum.part == 'core'"}],
                     "mark": {"type": "bar", "width": {"band": 0.5}, "cornerRadius": 3},
                     "encoding": {
                       "x": {"field": "g", "type": "nominal", "sort": null, "title": null, "scale": {"domain": ["6 DDR- Mut", "6 DDR- Wild"], "paddingInner": 0, "paddingOuter": 0.3, "align": 0.89}, "axis": {"labelAngle": -50, "labelFontSize": 10, "domainWidth": 1.5, "tickWidth": 1, "grid": true, "gridDash": [3, 3], "gridColor": "#e6e6e6"}},
                       "y": {"field": "lo", "type": "quantitative", "title": "TMB (nonsynonymous)", "scale": {"domain": [-22, 111], "nice": false}, "axis": {"values": [-20, 0, 20, 40, 60, 80, 100], "labelFontSize": 5, "labelFontWeight": "normal", "domainWidth": 1.5, "tickWidth": 1, "tickSize": 3}},
                       "y2": {"field": "hi"},
                       "color": {"field": "g", "type": "nominal", "legend": null, "scale": {"domain": ["6 DDR- Mut", "6 DDR- Wild"], "range": ["#d0112b", "#1a3490"]}}
                     }},
                    {"data": {"values": [{"v": 100}, {"v": -20}]}, "mark": {"type": "rule", "color": "#cfcfcf", "strokeDash": [4, 3], "strokeWidth": 1}, "encoding": {"y": {"field": "v", "type": "quantitative"}}},
                    {"data": {"name": "cloud"}, "transform": [{"filter": "datum.p == 'l2' && datum.part == 'upper'"}],
                     "mark": {"type": "bar", "width": {"band": 0.36}, "cornerRadius": 3},
                     "encoding": {"x": {"field": "g", "type": "nominal"}, "y": {"field": "lo", "type": "quantitative"}, "y2": {"field": "hi"}, "color": {"field": "g", "type": "nominal", "legend": null}}},
                    {"data": {"name": "pts"}, "transform": [{"filter": "datum.p == 'l2'"}],
                     "mark": {"type": "point", "filled": true, "size": 22, "opacity": 1},
                     "encoding": {"x": {"field": "g", "type": "nominal"}, "xOffset": {"field": "j", "type": "quantitative", "scale": {"domain": [-0.5, 0.5]}}, "y": {"field": "v", "type": "quantitative"}, "color": {"field": "g", "type": "nominal", "legend": null}}},
                    {"data": {"name": "sumr"}, "transform": [{"filter": "datum.p == 'l2'"}],
                     "mark": {"type": "tick", "color": "#9a9a9a", "thickness": 1.2, "size": 26},
                     "encoding": {"x": {"field": "g", "type": "nominal"}, "y": {"field": "v", "type": "quantitative"}}},
                    {
                      "data": {"name": "brk"}, "transform": [{"filter": "datum.p == 'l2'"}],
                      "layer": [
                        {"mark": {"type": "rule", "strokeWidth": 2.5, "color": "#000"}, "encoding": {"x": {"field": "from", "type": "nominal"}, "x2": {"field": "to"}, "y": {"field": "y", "type": "quantitative"}}},
                        {"transform": [{"fold": ["from", "to"], "as": ["end", "cat"]}], "mark": {"type": "rule", "strokeWidth": 2.5, "color": "#000"}, "encoding": {"x": {"field": "cat", "type": "nominal"}, "y": {"field": "y", "type": "quantitative"}, "y2": {"field": "ylo"}}},
                        {"mark": {"type": "text", "dx": 19, "dy": -12, "fontSize": 9.5}, "encoding": {"x": {"field": "from", "type": "nominal"}, "y": {"field": "y", "type": "quantitative"}, "text": {"field": "t"}}}
                      ]
                    }
                  ]
                }
              ]
            }
          ]
        }
      ]
    }
  ],
  "config": {
    "font": "Liberation Serif",
    "view": {"stroke": null},
    "axis": {
      "domainColor": "#000", "domainWidth": 2, "tickColor": "#000", "tickWidth": 2, "tickSize": 4,
      "labelFont": "Liberation Serif", "labelFontWeight": "bold", "labelFontSize": 8, "labelColor": "#000", "labelPadding": 2,
      "titleFont": "Liberation Serif", "titleFontWeight": "bold", "titleFontSize": 10, "titleColor": "#000", "titlePadding": 4,
      "grid": false
    },
    "axisX": {"labelAngle": -60, "labelFontStyle": "italic"},
    "legend": {"labelFont": "Liberation Serif", "labelFontSize": 10.5, "labelColor": "#000", "symbolType": "square", "symbolSize": 120, "symbolStrokeWidth": 0, "rowPadding": 5, "labelOffset": 6},
    "title": {"font": "Liberation Serif", "fontWeight": "bold", "fontSize": 11, "color": "#000", "offset": 14},
    "text": {"font": "Liberation Serif", "fontSize": 11, "color": "#000"}
  }
}
